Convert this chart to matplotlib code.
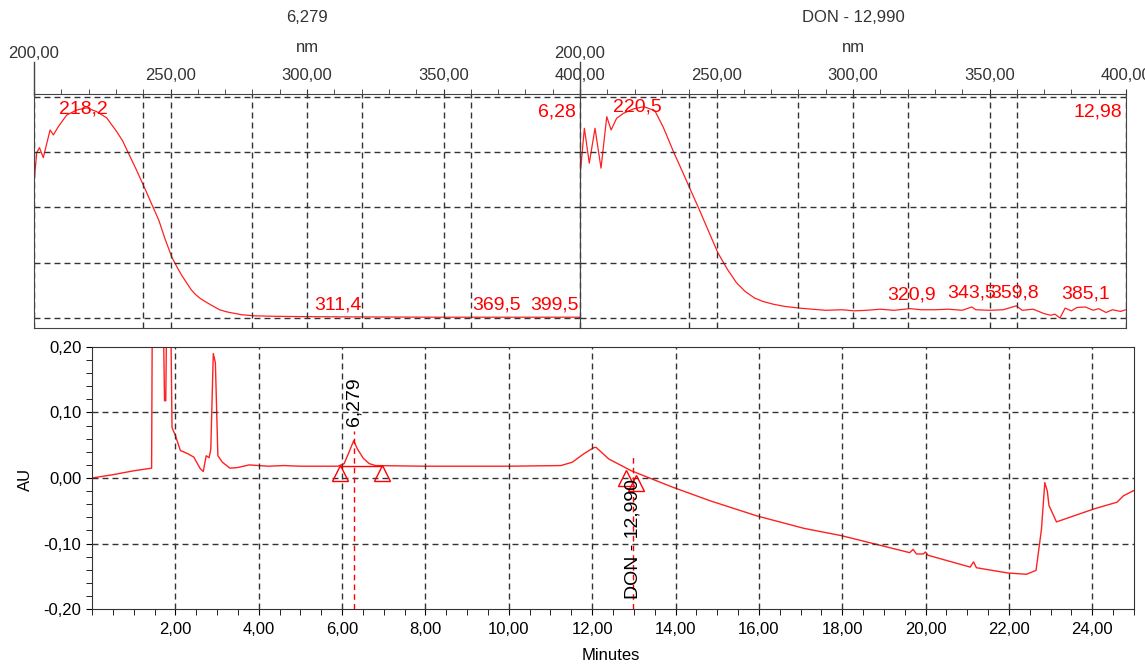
import numpy as np
import matplotlib
matplotlib.use("Agg")
from matplotlib import pyplot as plt
from matplotlib.transforms import blended_transform_factory
from matplotlib.ticker import FixedLocator, MultipleLocator, FuncFormatter

plt.rcParams['font.family'] = ['Liberation Sans', 'DejaVu Sans']

# spectrum at 6,279 min
wl_a = [200, 201, 202, 203.4, 205.9, 207.1, 208.9, 212, 215.6, 219.3, 223, 226.6, 230.3,
        232.5, 234.5, 237.5, 240.8, 243.2, 245.7, 248, 250.5, 252.3, 254, 256, 257.6, 259.3,
        261, 263, 264.7, 266.5, 268, 270, 271.7, 274, 276, 278.5, 280.8, 285, 290, 300, 320,
        350, 380, 400]
ab_a = [2.44, 2.99, 3.08, 2.90, 3.40, 3.31, 3.46, 3.67, 3.76, 3.80, 3.73, 3.62, 3.37,
        3.20, 2.99, 2.68, 2.32, 2.05, 1.77, 1.43, 1.10, 0.93, 0.78, 0.63, 0.51, 0.42,
        0.35, 0.29, 0.24, 0.19, 0.15, 0.12, 0.10, 0.08, 0.06, 0.05, 0.04, 0.035, 0.03, 0.025,
        0.02, 0.015, 0.015, 0.015]
peaks_a = ["218,2", "311,4", "369,5", "399,5"]
peaks_a_x = [218.2, 311.4, 369.5, 399.5]
peaks_a_y = [3.69, 0.16, 0.16, 0.16]

# spectrum at DON - 12,990 min
wl_b = [200, 201.6, 203.4, 205.5, 207.7, 209.8, 211.4, 213.4, 215.9, 219.5, 223.4, 227.4,
        230.5, 234.3, 237.5, 240.9, 243.7, 247, 250.5, 254, 257.3, 260.5, 264, 267, 270.8,
        275, 280.3, 285, 290, 296, 300.5, 305, 310, 315, 320.9, 325, 330, 335, 340, 343.5,
        345, 350, 355, 359.8, 362, 366, 368, 370, 372.4, 374, 375.8, 377.7, 380, 382,
        385.1, 388, 390, 392.7, 395, 398, 400]
ab_b = [2.56, 3.43, 2.80, 3.43, 2.71, 3.64, 3.40, 3.61, 3.70, 3.78, 3.82, 3.75,
        3.45, 3.00, 2.65, 2.27, 1.96, 1.58, 1.18, 0.88, 0.64, 0.48, 0.36, 0.30, 0.25,
        0.21, 0.18, 0.16, 0.14, 0.15, 0.13, 0.14, 0.16, 0.14, 0.17, 0.15, 0.15, 0.16, 0.14, 0.20,
        0.15, 0.14, 0.15, 0.22, 0.14, 0.16, 0.12, 0.08, 0.05, 0.07, 0.0, 0.18, 0.13, 0.19,
        0.20, 0.14, 0.17, 0.10, 0.15, 0.12, 0.15]
peaks_b = ["220,5", "320,9", "343,5", "359,8", "385,1"]
peaks_b_x = [221.0, 321.6, 343.3, 359.0, 385.3]
peaks_b_y = [3.73, 0.33, 0.38, 0.38, 0.35]

# chromatogram
t = [0, 0.5, 1.0, 1.43, 1.45, 1.70, 1.74, 1.77, 1.80, 1.88, 1.92, 2.0, 2.12, 2.3, 2.44,
     2.6, 2.67, 2.74, 2.81, 2.85, 2.91, 2.96, 3.02, 3.13, 3.31, 3.5, 3.77, 4.23, 4.6, 5.0,
     5.9, 6.05, 6.17, 6.279, 6.37, 6.51, 6.65, 6.8, 8.0, 10.0, 11.25, 11.52, 11.8, 12.03,
     12.09, 12.40, 12.94, 13.93, 14.84, 15.96, 17.09, 17.98, 18.99, 19.62, 19.70, 19.78,
     19.94, 20.0, 20.06, 21.07, 21.15, 21.22, 21.97, 22.42, 22.65, 22.78, 22.86, 22.92,
     22.96, 23.14, 24.05, 24.59, 24.75, 25.0]
au = [0.0, 0.005, 0.011, 0.015, 0.30, 0.30, 0.118, 0.118, 0.30, 0.30, 0.077, 0.065, 0.042,
      0.037, 0.032, 0.014, 0.010, 0.034, 0.031, 0.044, 0.19, 0.176, 0.034, 0.024, 0.015,
      0.016, 0.020, 0.018, 0.019, 0.018, 0.018, 0.022, 0.040, 0.057, 0.044, 0.030, 0.022,
      0.019, 0.018, 0.018, 0.019, 0.024, 0.037, 0.046, 0.047, 0.029, 0.011, -0.014,
      -0.035, -0.058, -0.077, -0.088, -0.104, -0.114, -0.109, -0.116, -0.116, -0.113,
      -0.118, -0.136, -0.128, -0.137, -0.145, -0.147, -0.141, -0.078, -0.007, -0.020,
      -0.042, -0.067, -0.047, -0.037, -0.027, -0.019]

peak_names = ["6,279", "DON - 12,990"]
peak_rt = [6.279, 12.99]
peak_top = [0.072, 0.032]
base_marks_t = [5.95, 6.95, 12.82, 13.05]
base_marks_y = [0.007, 0.007, 0.0, -0.008]

W, H = 1145, 664
fig = plt.figure(figsize=(W / 100, H / 100), dpi=100)
red = '#ff2020'
grid_kw = dict(color='#333333', lw=1, dashes=(4.3, 2.9))
comma2 = FuncFormatter(lambda v, p: f"{v:.2f}".replace('.', ','))


def spectrum(left, wl, ab, names, xs, ys, corner, corner_y):
    ax = fig.add_axes([left / W, 1 - 328 / H, 546 / W, 234 / H])
    ax.plot(wl, ab, color=red, lw=0.9)
    ax.set_xlim(200, 400)
    ax.set_ylim(-0.18, 4.05)
    for g in [200, 240, 280, 320, 360, 400, 250, 300, 350]:
        ax.axvline(g, **grid_kw)
    for g in range(5):
        ax.axhline(g, **grid_kw)
    ax.xaxis.tick_top()
    ax.set_xticks([200, 250, 300, 350, 400])
    ax.set_xticklabels(['', '250,00', '300,00', '350,00', '400,00'])
    ax.xaxis.set_minor_locator(MultipleLocator(10))
    ax.tick_params(axis='x', which='both', direction='out', length=3.6, pad=4,
                   labelsize=12, labelcolor='#333333', color='#333333')
    ax.set_yticks([])
    for s in ax.spines.values():
        s.set_color('#444444')
    tr = blended_transform_factory(ax.transData, ax.transAxes)
    ax.plot([200, 200], [1, 1 + 32 / 234], transform=tr, color='#444444', lw=1, clip_on=False)
    ax.text(200, 1 + 40 / 234, '200,00', transform=tr, ha='center', va='center',
            fontsize=12, color='#333333')
    for n, x, y in zip(names, xs, ys):
        ha = 'right' if x > 395 else 'center'
        ax.text(x, y, n, color='#ff0000', fontsize=14, ha=ha, va='baseline')
    ax.text(398.5, corner_y, corner, color='#ff0000', fontsize=14, ha='right', va='baseline')
    return ax


spectrum(34, wl_a, ab_a, peaks_a, peaks_a_x, peaks_a_y, '6,28', 3.64)
spectrum(580, wl_b, ab_b, peaks_b, peaks_b_x, peaks_b_y, '12,98', 3.65)

fig.text(307 / W, 1 - 18 / H, '6,279', ha='center', va='center', fontsize=12, color='#333333')
fig.text(307 / W, 1 - 48 / H, 'nm', ha='center', va='center', fontsize=12, color='#333333')
fig.text(853 / W, 1 - 18 / H, 'DON - 12,990', ha='center', va='center', fontsize=12, color='#333333')
fig.text(853 / W, 1 - 48 / H, 'nm', ha='center', va='center', fontsize=12, color='#333333')

# chromatogram
ax = fig.add_axes([92 / W, 1 - 609 / H, 1042 / W, 262 / H])
ax.plot(t, au, color=red, lw=1)
ax.set_xlim(0, 25)
ax.set_ylim(-0.2, 0.2)
for g in range(2, 25, 2):
    ax.axvline(g, **grid_kw)
for g in [-0.1, 0.0, 0.1]:
    ax.axhline(g, **grid_kw)
ax.set_xticks(range(2, 25, 2))
ax.xaxis.set_major_formatter(comma2)
ax.xaxis.set_minor_locator(MultipleLocator(0.5))
ax.set_yticks([-0.2, -0.1, 0.0, 0.1, 0.2])
ax.yaxis.set_major_formatter(comma2)
ax.yaxis.set_minor_locator(MultipleLocator(0.02))
ax.tick_params(axis='x', which='both', length=4.6, pad=4.5, labelsize=12)
ax.tick_params(axis='y', which='both', length=4.6, pad=3, labelsize=12)
for s in ax.spines.values():
    s.set_color('#333333')

for name, rt, top in zip(peak_names, peak_rt, peak_top):
    ax.plot([rt, rt], [-0.2, top], color='#ff0000', lw=1, dashes=(4, 3))
ax.plot([5.95, 6.95], [0.018, 0.018], color='#ff0000', lw=1)
ax.plot(base_marks_t, base_marks_y, ls='none', marker='^', ms=11, mfc='none',
        mec='#ff0000', mew=1)
ax.text(peak_rt[0], 0.079, peak_names[0], rotation=90, ha='center', va='bottom', fontsize=14)
ax.text(peak_rt[1], -0.001, peak_names[1], rotation=90, ha='center', va='top', fontsize=14)

fig.text(25 / W, 1 - 479 / H, 'AU', rotation=90, ha='center', va='center', fontsize=12)
fig.text(611 / W, 1 - 656 / H, 'Minutes', ha='center', va='center', fontsize=12)

fig.savefig('out.png', dpi=100)
